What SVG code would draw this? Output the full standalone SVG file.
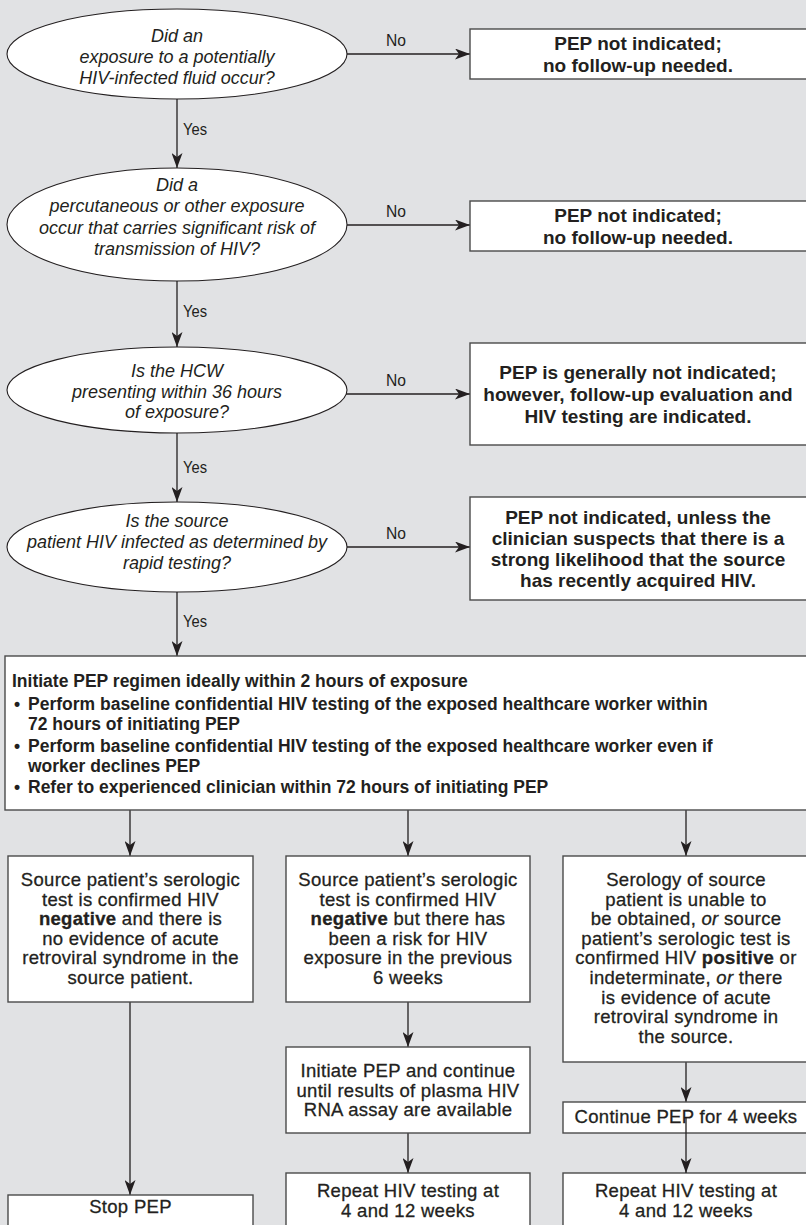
<svg xmlns="http://www.w3.org/2000/svg" width="806" height="1225" viewBox="0 0 806 1225">
<defs>
<style>
.ell{fill:#fff;stroke:#231f20;stroke-width:1.1}
.box{fill:#fff;stroke:#4a4a4a;stroke-width:1.4}
.q{font-family:"Liberation Sans",Arial,sans-serif;font-style:italic;font-size:18px;fill:#231f20;text-anchor:middle}
.ans{font-family:"Liberation Sans",Arial,sans-serif;font-weight:bold;font-size:19px;fill:#231f20;text-anchor:middle}
.lbl{font-family:"Liberation Sans",Arial,sans-serif;font-size:17px;fill:#231f20}
.big{font-family:"Liberation Sans",Arial,sans-serif;font-weight:bold;font-size:17.5px;fill:#231f20}
.body{font-family:"Liberation Sans",Arial,sans-serif;font-size:18.5px;letter-spacing:0.3px;fill:#231f20;stroke:#231f20;stroke-width:0.3;text-anchor:middle}
.b{font-weight:bold}
.i{font-style:italic}
.con{stroke:#231f20;stroke-width:1.3;fill:none;marker-end:url(#ah)}
</style>
<marker id="ah" markerUnits="userSpaceOnUse" markerWidth="15" markerHeight="11" viewBox="0 0 15 11" refX="15" refY="5.5" orient="auto">
<path d="M0,0 L15,5.5 L0,11 L4,5.5 z" fill="#231f20"/>
</marker>
</defs>
<rect x="0" y="0" width="806" height="1225" fill="#e1e2e4"/>

<g id="connectors">
<line class="con" x1="177" y1="99" x2="177" y2="168"/>
<line class="con" x1="177" y1="281" x2="177" y2="347"/>
<line class="con" x1="177" y1="433" x2="177" y2="502"/>
<line class="con" x1="177" y1="592" x2="177" y2="656"/>
<line class="con" x1="347" y1="54" x2="470" y2="54"/>
<line class="con" x1="347" y1="225" x2="470" y2="225"/>
<line class="con" x1="346" y1="394" x2="470" y2="394"/>
<line class="con" x1="347" y1="547" x2="470" y2="547"/>
<line class="con" x1="130" y1="810" x2="130" y2="856"/>
<line class="con" x1="408" y1="810" x2="408" y2="856"/>
<line class="con" x1="686" y1="810" x2="686" y2="856"/>
<line class="con" x1="130" y1="1002" x2="130" y2="1195"/>
<line class="con" x1="408" y1="1002" x2="408" y2="1047"/>
<line class="con" x1="408" y1="1133" x2="408" y2="1173"/>
<line class="con" x1="686" y1="1062" x2="686" y2="1102"/>
<text class="lbl" x="183" y="135" textLength="24" lengthAdjust="spacingAndGlyphs">Yes</text>
<text class="lbl" x="183" y="317" textLength="24" lengthAdjust="spacingAndGlyphs">Yes</text>
<text class="lbl" x="183" y="473" textLength="24" lengthAdjust="spacingAndGlyphs">Yes</text>
<text class="lbl" x="183" y="627" textLength="24" lengthAdjust="spacingAndGlyphs">Yes</text>
<text class="lbl" x="386" y="46" textLength="20" lengthAdjust="spacingAndGlyphs">No</text>
<text class="lbl" x="386" y="217" textLength="20" lengthAdjust="spacingAndGlyphs">No</text>
<text class="lbl" x="386" y="386" textLength="20" lengthAdjust="spacingAndGlyphs">No</text>
<text class="lbl" x="386" y="539" textLength="20" lengthAdjust="spacingAndGlyphs">No</text>
</g>

<g id="q1">
<ellipse class="ell" cx="177" cy="54" rx="170" ry="45"/>
<text class="q" x="177" y="42">Did an</text>
<text class="q" x="177" y="63">exposure to a potentially</text>
<text class="q" x="177" y="84">HIV-infected fluid occur?</text>
</g>
<g id="q2">
<ellipse class="ell" cx="177" cy="224.5" rx="170" ry="56.5"/>
<text class="q" x="177" y="191">Did a</text>
<text class="q" x="177" y="212">percutaneous or other exposure</text>
<text class="q" x="177" y="233.5">occur that carries significant risk of</text>
<text class="q" x="177" y="255">transmission of HIV?</text>
</g>
<g id="q3">
<ellipse class="ell" cx="177" cy="390" rx="170" ry="43"/>
<text class="q" x="177" y="377">Is the HCW</text>
<text class="q" x="177" y="397.5">presenting within 36 hours</text>
<text class="q" x="177" y="418">of exposure?</text>
</g>
<g id="q4">
<ellipse class="ell" cx="177" cy="547" rx="170" ry="45"/>
<text class="q" x="177" y="527">Is the source</text>
<text class="q" x="177" y="548">patient HIV infected as determined by</text>
<text class="q" x="177" y="569">rapid testing?</text>
</g>

<g id="a1">
<rect class="box" x="470" y="29" width="345" height="50"/>
<text class="ans" x="638" y="50">PEP not indicated;</text>
<text class="ans" x="638" y="72">no follow-up needed.</text>
</g>
<g id="a2">
<rect class="box" x="470" y="201" width="345" height="50"/>
<text class="ans" x="638" y="222">PEP not indicated;</text>
<text class="ans" x="638" y="244">no follow-up needed.</text>
</g>
<g id="a3">
<rect class="box" x="470" y="343" width="345" height="102"/>
<text class="ans" x="638" y="379">PEP is generally not indicated;</text>
<text class="ans" x="638" y="401">however, follow-up evaluation and</text>
<text class="ans" x="638" y="423">HIV testing are indicated.</text>
</g>
<g id="a4">
<rect class="box" x="470" y="497" width="345" height="103"/>
<text class="ans" x="638" y="524">PEP not indicated, unless the</text>
<text class="ans" x="638" y="545">clinician suspects that there is a</text>
<text class="ans" x="638" y="566">strong likelihood that the source</text>
<text class="ans" x="638" y="587">has recently acquired HIV.</text>
</g>

<g id="initiate">
<rect class="box" x="5" y="656" width="810" height="154"/>
<text class="big" x="12" y="687" font-size="18">Initiate PEP regimen ideally within 2 hours of exposure</text>
<text class="big" x="14" y="710">•</text>
<text class="big" x="28" y="710">Perform baseline confidential HIV testing of the exposed healthcare worker within</text>
<text class="big" x="28" y="730">72 hours of initiating PEP</text>
<text class="big" x="14" y="752">•</text>
<text class="big" x="28" y="752">Perform baseline confidential HIV testing of the exposed healthcare worker even if</text>
<text class="big" x="28" y="772">worker declines PEP</text>
<text class="big" x="14" y="793">•</text>
<text class="big" x="28" y="793">Refer to experienced clinician within 72 hours of initiating PEP</text>
</g>

<g id="neg">
<rect class="box" x="8" y="856" width="245" height="146"/>
<text class="body" x="130.5" y="886">Source patient’s serologic</text>
<text class="body" x="130.5" y="905.6">test is confirmed HIV</text>
<text class="body" x="130.5" y="925.2"><tspan class="b">negative</tspan> and there is</text>
<text class="body" x="130.5" y="944.8">no evidence of acute</text>
<text class="body" x="130.5" y="964.4">retroviral syndrome in the</text>
<text class="body" x="130.5" y="984">source patient.</text>
</g>
<g id="negrisk">
<rect class="box" x="286" y="856" width="244" height="146"/>
<text class="body" x="408" y="886">Source patient’s serologic</text>
<text class="body" x="408" y="905.6">test is confirmed HIV</text>
<text class="body" x="408" y="925.2"><tspan class="b">negative</tspan> but there has</text>
<text class="body" x="408" y="944.8">been a risk for HIV</text>
<text class="body" x="408" y="964.4">exposure in the previous</text>
<text class="body" x="408" y="984">6 weeks</text>
</g>
<g id="pos">
<rect class="box" x="563" y="856" width="252" height="206"/>
<text class="body" x="686" y="886">Serology of source</text>
<text class="body" x="686" y="905.6">patient is unable to</text>
<text class="body" x="686" y="925.2">be obtained, <tspan class="i">or</tspan> source</text>
<text class="body" x="686" y="944.8">patient’s serologic test is</text>
<text class="body" x="686" y="964.4">confirmed HIV <tspan class="b">positive</tspan> or</text>
<text class="body" x="686" y="984">indeterminate, <tspan class="i">or</tspan> there</text>
<text class="body" x="686" y="1003.6">is evidence of acute</text>
<text class="body" x="686" y="1023.2">retroviral syndrome in</text>
<text class="body" x="686" y="1042.8">the source.</text>
</g>
<g id="stop">
<rect class="box" x="8" y="1195" width="245" height="40"/>
<text class="body" x="130.5" y="1213">Stop PEP</text>
</g>
<g id="initrna">
<rect class="box" x="286" y="1047" width="244" height="86"/>
<text class="body" x="408" y="1077">Initiate PEP and continue</text>
<text class="body" x="408" y="1097">until results of plasma HIV</text>
<text class="body" x="408" y="1116">RNA assay are available</text>
</g>
<g id="repeatm">
<rect class="box" x="286" y="1173" width="244" height="62"/>
<text class="body" x="408" y="1197">Repeat HIV testing at</text>
<text class="body" x="408" y="1217">4 and 12 weeks</text>
</g>
<g id="cont4">
<rect class="box" x="563" y="1102" width="252" height="31"/>
<text class="body" x="686" y="1123">Continue PEP for 4 weeks</text>
</g>
<g id="repeatr">
<rect class="box" x="563" y="1173" width="252" height="62"/>
<text class="body" x="686" y="1197">Repeat HIV testing at</text>
<text class="body" x="686" y="1217">4 and 12 weeks</text>
</g>
<g id="connectors-over">
<line class="con" x1="686" y1="1117" x2="686" y2="1173"/>
</g>
</svg>
